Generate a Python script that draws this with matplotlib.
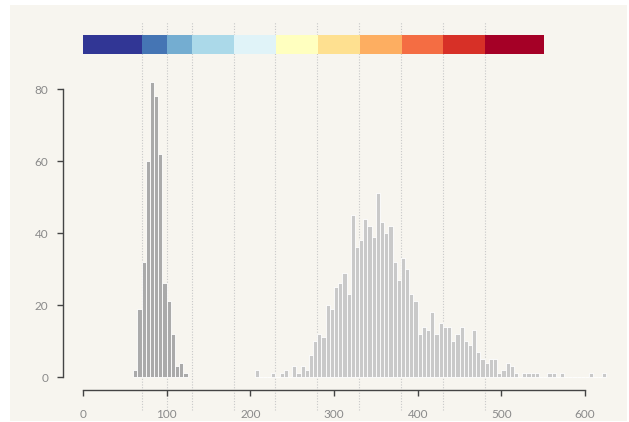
import numpy as np
import matplotlib
matplotlib.use("Agg")
import matplotlib.pyplot as plt
from matplotlib.patches import Rectangle

# histogram counts, 5-wide bins
bin_width = 5
left_first_bin = 60
left_counts = [2, 19, 32, 60, 82, 78, 62, 26, 21, 12, 3, 4, 1]
right_first_bin = 205
right_counts = [2, 0, 0, 0, 1, 0, 1, 2, 0, 3, 1, 3, 2, 6, 10, 12, 11, 20, 19, 25,
                26, 29, 23, 45, 36, 38, 44, 42, 39, 51, 43, 40, 42, 32, 27, 33, 30, 23,
                21, 12, 14, 13, 18, 12, 15, 14, 14, 10, 12, 14, 10, 9, 13, 7, 5, 4, 5,
                5, 1, 2, 4, 3, 1, 0, 1, 1, 1, 1, 0, 0, 1, 1, 0, 1, 0, 0, 0, 0, 0, 0, 1,
                0, 0, 1]

# threshold legend
thresholds = [70, 100, 130, 180, 230, 280, 330, 380, 430, 480]
legend_domain = [0, 550]
legend_colors = ["#313695", "#4575b4", "#74add1", "#abd9e9", "#e0f3f8", "#ffffbf",
                 "#fee090", "#fdae61", "#f46d43", "#d73027", "#a50026"]

x_ticks = [0, 100, 200, 300, 400, 500, 600]
y_ticks = [0, 20, 40, 60, 80]

W, H = 629, 422
BG = "#f7f5ef"
TXT = "#8a8a8a"
plt.rcParams["font.family"] = ["Lato", "DejaVu Sans"]

fig = plt.figure(figsize=(W / 100, H / 100), dpi=100)
fig.patches.append(Rectangle((10 / W, 1 / H), 617 / W, 416 / H,
                             transform=fig.transFigure, facecolor=BG,
                             edgecolor="none", zorder=-10))

# pixel scale: x px = 83 + 0.8367*v ; y px = 377 - 3.6*v
def px_x(p):
    return (p - 83) / 0.8367

def px_y(p):
    return (377 - p) / 3.6

ax_l, ax_r, ax_t, ax_b = 20, 627, 15, 415
ax = fig.add_axes([ax_l / W, (H - ax_b) / H, (ax_r - ax_l) / W, (ax_b - ax_t) / H])
ax.set_facecolor("none")
ax.set_xlim(px_x(ax_l), px_x(ax_r))
ax.set_ylim(px_y(ax_b), px_y(ax_t))

left_x = left_first_bin + bin_width * np.arange(len(left_counts))
right_x = right_first_bin + bin_width * np.arange(len(right_counts))
ax.bar(left_x, left_counts, width=bin_width, align="edge", color="#aaaaaa",
       edgecolor="white", linewidth=0.6, zorder=3)
ax.bar(right_x, right_counts, width=bin_width, align="edge", color="#c9c9c9",
       edgecolor="white", linewidth=0.6, zorder=3)

# dotted threshold lines
y0 = (ax_b - 410) / (ax_b - ax_t)
y1 = (ax_b - 22) / (ax_b - ax_t)
for t in thresholds:
    ax.axvline(t, ymin=y0, ymax=y1, color="#c8c8c8", linestyle=(0, (1, 1.5)),
               linewidth=0.8, zorder=1)

for s in ["top", "right"]:
    ax.spines[s].set_visible(False)
ax.spines["left"].set_position(("data", px_x(63)))
ax.spines["left"].set_bounds(0, 80)
ax.spines["bottom"].set_position(("data", px_y(390)))
ax.spines["bottom"].set_bounds(0, 600)
for s in ["left", "bottom"]:
    ax.spines[s].set_color("#444444")
    ax.spines[s].set_linewidth(1.0)

ax.set_xticks(x_ticks)
ax.set_yticks(y_ticks)
ax.tick_params(axis="both", colors="#444444", labelcolor=TXT, labelsize=8.5,
               length=4.5, width=1.0)
ax.tick_params(axis="x", pad=9)
ax.tick_params(axis="y", pad=6)

# colour legend
lg_l, lg_r, lg_t, lg_b = 83, 544, 35, 54
lax = fig.add_axes([lg_l / W, (H - lg_b) / H, (lg_r - lg_l) / W, (lg_b - lg_t) / H])
lax.set_facecolor("none")
edges = [legend_domain[0]] + thresholds + [legend_domain[1]]
for i, c in enumerate(legend_colors):
    lax.barh(0.5, edges[i + 1] - edges[i], left=edges[i], height=1, color=c,
             edgecolor="none")
lax.set_xlim(legend_domain)
lax.set_ylim(0, 1)
lax.axis("off")

fig.savefig("out.png", dpi=100, facecolor="white")
